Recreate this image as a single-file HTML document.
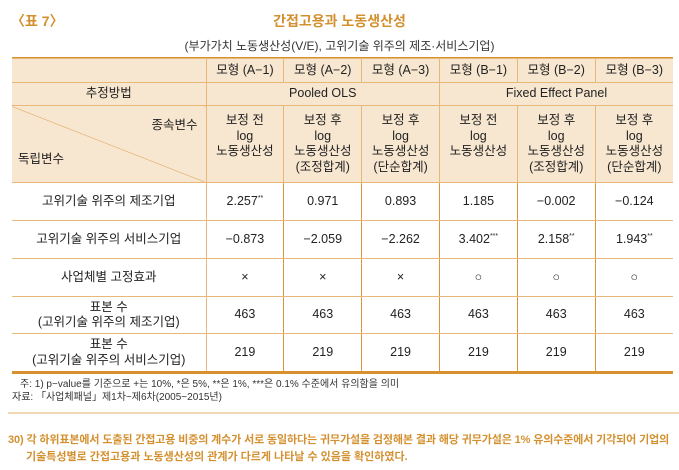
<!DOCTYPE html>
<html><head><meta charset="utf-8"><style>
body{margin:0;width:679px;height:470px;background:#fff;position:relative;overflow:hidden;font-family:"Liberation Sans","Noto Sans CJK KR",sans-serif;color:#222;}
.a{position:absolute;white-space:nowrap}
table{position:absolute;left:12px;top:58px;width:661px;border-collapse:collapse;font-size:12.5px;table-layout:fixed}
td{border:1px solid #e8b878;text-align:center;padding:0;line-height:15.5px}
tr.h td{background:#f8e7d0}
td.v{border-left:1.5px solid #d9953a;border-right:1.5px solid #d9953a}
sup{font-size:7px;vertical-align:5px;line-height:0}
</style></head><body>
<div class="a" style="left:11px;top:11px;font-size:14px;font-weight:bold;color:#d4902f">〈표 7〉</div>
<div class="a" style="left:0;width:679px;text-align:center;top:11px;font-size:14px;font-weight:bold;color:#d4902f">간접고용과 노동생산성</div>
<div class="a" style="left:0;width:679px;text-align:center;top:37px;font-size:12px;color:#333">(부가가치 노동생산성(V/E), 고위기술 위주의 제조·서비스기업)</div>
<div class="a" style="left:12px;top:57px;width:661px;height:3px;background:#d9902f"></div>
<table>
<colgroup><col style="width:194px"><col><col><col><col><col><col></colgroup>
<tr class="h" style="height:24px"><td style="border-left:none"></td><td>모형 (A−1)</td><td>모형 (A−2)</td><td>모형 (A−3)</td><td>모형 (B−1)</td><td>모형 (B−2)</td><td style="border-right:none">모형 (B−3)</td></tr>
<tr class="h" style="height:23px"><td style="border-left:none">추정방법</td><td colspan="3">Pooled OLS</td><td colspan="3" style="border-right:none">Fixed Effect Panel</td></tr>
<tr class="h" style="height:77px"><td style="border-left:none;position:relative;background:#f8e7d0 linear-gradient(to top right,transparent calc(50% - 0.6px),#e0a860 50%,transparent calc(50% + 0.6px))">
<span class="a" style="right:8px;top:12px">종속변수</span><span class="a" style="left:6px;top:46px">독립변수</span></td>
<td>보정 전<br>log<br>노동생산성<br>&nbsp;</td><td>보정 후<br>log<br>노동생산성<br>(조정합계)</td><td>보정 후<br>log<br>노동생산성<br>(단순합계)</td><td>보정 전<br>log<br>노동생산성<br>&nbsp;</td><td>보정 후<br>log<br>노동생산성<br>(조정합계)</td><td style="border-right:none">보정 후<br>log<br>노동생산성<br>(단순합계)</td></tr>
<tr style="height:38px"><td style="border-left:none">고위기술 위주의 제조기업</td><td class="v">2.257<sup>**</sup></td><td class="v">0.971</td><td class="v">0.893</td><td class="v">1.185</td><td class="v">−0.002</td><td style="border-right:none">−0.124</td></tr>
<tr style="height:38px"><td style="border-left:none">고위기술 위주의 서비스기업</td><td class="v">−0.873</td><td class="v">−2.059</td><td class="v">−2.262</td><td class="v">3.402<sup>***</sup></td><td class="v">2.158<sup>**</sup></td><td style="border-right:none">1.943<sup>**</sup></td></tr>
<tr style="height:38px"><td style="border-left:none">사업체별 고정효과</td><td class="v">×</td><td class="v">×</td><td class="v">×</td><td class="v">○</td><td class="v">○</td><td style="border-right:none">○</td></tr>
<tr style="height:37px"><td style="border-left:none">표본 수<br>(고위기술 위주의 제조기업)</td><td class="v">463</td><td class="v">463</td><td class="v">463</td><td class="v">463</td><td class="v">463</td><td style="border-right:none">463</td></tr>
<tr style="height:38px"><td style="border-left:none">표본 수<br>(고위기술 위주의 서비스기업)</td><td class="v">219</td><td class="v">219</td><td class="v">219</td><td class="v">219</td><td class="v">219</td><td style="border-right:none">219</td></tr>
</table>
<div class="a" style="left:12px;top:371px;width:661px;height:3px;background:#d9902f"></div>
<div class="a" style="left:20px;top:375px;font-size:10px;color:#333">주: 1) p−value를 기준으로 +는 10%, *은 5%, **은 1%, ***은 0.1% 수준에서 유의함을 의미</div>
<div class="a" style="left:12px;top:388px;font-size:10px;color:#333">자료: 「사업체패널」제1차~제6차(2005~2015년)</div>
<div class="a" style="left:8px;top:412px;width:671px;height:2px;background:#f0d8b0"></div>
<div class="a" style="left:8px;top:431px;font-size:11px;font-weight:bold;color:#d4902f;letter-spacing:-0.12px">30) 각 하위표본에서 도출된 간접고용 비중의 계수가 서로 동일하다는 귀무가설을 검정해본 결과 해당 귀무가설은 1% 유의수준에서 기각되어 기업의</div>
<div class="a" style="left:26px;top:448px;font-size:11px;font-weight:bold;color:#d4902f">기술특성별로 간접고용과 노동생산성의 관계가 다르게 나타날 수 있음을 확인하였다.</div>
</body></html>
